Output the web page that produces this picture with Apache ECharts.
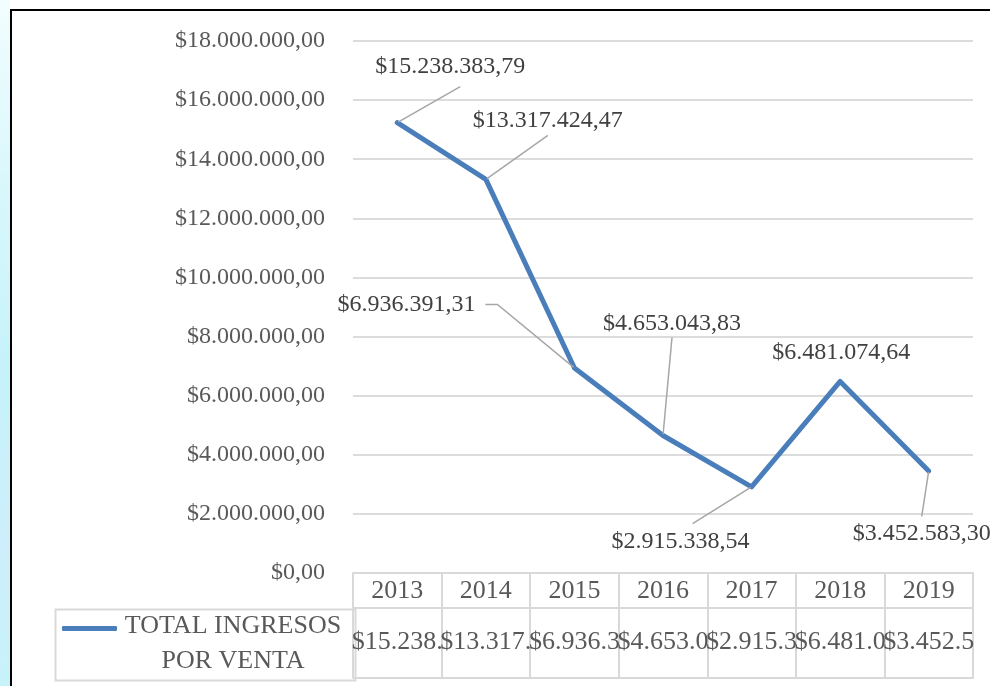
<!DOCTYPE html>
<html>
<head>
<meta charset="utf-8">
<script src="https://cdn.jsdelivr.net/npm/echarts@6/dist/echarts.min.js"></script>
<style>
  html, body { margin: 0; padding: 0; width: 990px; height: 686px; overflow: hidden; background: #fff; }
  #franja { position: absolute; left: 0; top: 0; width: 10px; height: 686px;
    background: linear-gradient(180deg, #f2fdfe 0%, #d6f7fc 30%, #c6f2fa 55%, #cdeefa 80%, #c8f3fb 100%); }
  #marco { position: absolute; left: 10px; top: 9px; width: 990px; height: 686px;
    border-left: 2px solid #000; border-top: 2px solid #000; background: #fff; }
  #grafico { position: absolute; left: 0; top: 0; width: 990px; height: 686px; }
</style>
</head>
<body>
<div id="franja"></div>
<div id="marco"></div>
<div id="grafico"></div>
<script>
// datos del grafico
const anios = ['2013', '2014', '2015', '2016', '2017', '2018', '2019'];
const ingresos = [15238383.79, 13317424.47, 6936391.31, 4653043.83, 2915338.54, 6481074.64, 3452583.30];
const nombreSerie = 'TOTAL INGRESOS POR VENTA';
const ejeYMax = 18000000;
const ejeYPaso = 2000000;

// colocacion de las etiquetas: desplazamiento (dx, dy), relleno [arriba, der, abajo, izq]
// y largo del tramo recto de la linea guia
const etiquetasDx = [63, 62, -163, 9, -59, 1, -7];
const etiquetasDy = [-30, -38, -45.5, -92, 72.7, -11, 80.5];
const etiquetasPad = [[0, 50, 8, 30], [0, 50, 3, 50], [0, 10, 0, 0], [0, 0, 2, 0], [6, 60, 0, 36], [0, 0, 0, 0], [5, 0, 0, 0]];
const etiquetasLen2 = [0, 0, 12, 0, 0, 0, 0];
const etiquetasGuia = [true, true, true, true, true, false, true];

const fuente = 'Liberation Serif';
const gris = '#595959';
const lineaTabla = { color: '#d9d9d9', width: 2 };

// formato $15.238.383,79
function moneda(v) {
  const partes = Number(v).toFixed(2).split('.');
  return '$' + partes[0].replace(/\B(?=(\d{3})+(?!\d))/g, '.') + ',' + partes[1];
}

const datosSerie = ingresos.map((v, i) => ({
  value: v,
  label: { padding: etiquetasPad[i] },
  labelLine: { show: etiquetasGuia[i], length2: etiquetasLen2[i] }
}));

const option = {
  animation: false,
  grid: { left: 353, right: 17, top: 41, bottom: 113, containLabel: false },
  legend: {
    left: 62, top: 613, padding: 0,
    icon: 'roundRect', itemWidth: 55, itemHeight: 5, itemGap: 0,
    formatter: () => '{a|TOTAL INGRESOS}\n{a|POR VENTA}',
    textStyle: {
      fontFamily: fuente, fontSize: 26, color: gris, padding: [30, 0, 0, 0],
      rich: { a: { width: 222, align: 'center', fontFamily: fuente, fontSize: 26, color: gris, lineHeight: 35 } }
    },
    data: [nombreSerie]
  },
  graphic: [{
    type: 'rect', left: 53, top: 607, silent: true,
    shape: { width: 300, height: 71 },
    style: { fill: 'none', stroke: '#d9d9d9', lineWidth: 2 }
  }],
  xAxis: [
    {
      type: 'category', data: anios, position: 'bottom', boundaryGap: true,
      axisLine: { show: true, lineStyle: lineaTabla },
      axisTick: { show: true, length: 35, lineStyle: lineaTabla },
      axisLabel: { fontFamily: fuente, fontSize: 26, color: gris, margin: 5, interval: 0 },
      splitLine: { show: false }
    },
    {
      type: 'category', data: anios, position: 'bottom', offset: 35, boundaryGap: true,
      axisLine: { show: true, lineStyle: lineaTabla },
      axisTick: { show: true, length: 70, lineStyle: lineaTabla, interval: 0 },
      axisLabel: {
        fontFamily: fuente, fontSize: 26, color: gris, margin: 21, interval: 0, hideOverlap: false,
        width: 92, overflow: 'truncate', ellipsis: '',
        formatter: (val, idx) => moneda(ingresos[idx])
      },
      splitLine: { show: false }
    },
    {
      type: 'category', data: anios, position: 'bottom', offset: 105,
      axisLine: { show: true, lineStyle: lineaTabla },
      axisTick: { show: false }, axisLabel: { show: false }, splitLine: { show: false }
    }
  ],
  yAxis: {
    type: 'value', min: 0, max: ejeYMax, interval: ejeYPaso,
    axisLine: { show: false }, axisTick: { show: false },
    axisLabel: { fontFamily: fuente, fontSize: 24, color: gris, margin: 28, formatter: v => moneda(v) },
    splitLine: { lineStyle: { color: '#dcdcdc', width: 2 } }
  },
  series: [{
    name: nombreSerie,
    type: 'line',
    xAxisIndex: 0,
    data: datosSerie,
    symbol: 'circle', symbolSize: 2,
    itemStyle: { color: '#4a7ebb' },
    lineStyle: { color: '#4a7ebb', width: 5, join: 'round', cap: 'round' },
    label: {
      show: true, position: 'top', distance: 5,
      fontFamily: fuente, fontSize: 24, color: '#404040',
      // fondo transparente para que el relleno cuente en la caja de la etiqueta
      backgroundColor: 'rgba(255,255,255,0)',
      formatter: p => moneda(p.value)
    },
    labelLine: { show: true, lineStyle: { color: '#a6a6a6', width: 1.5 } },
    labelLayout: p => ({ dx: etiquetasDx[p.dataIndex], dy: etiquetasDy[p.dataIndex] })
  }]
};

const myChart = echarts.init(document.getElementById('grafico'));
myChart.setOption(option);
</script>
</body>
</html>
